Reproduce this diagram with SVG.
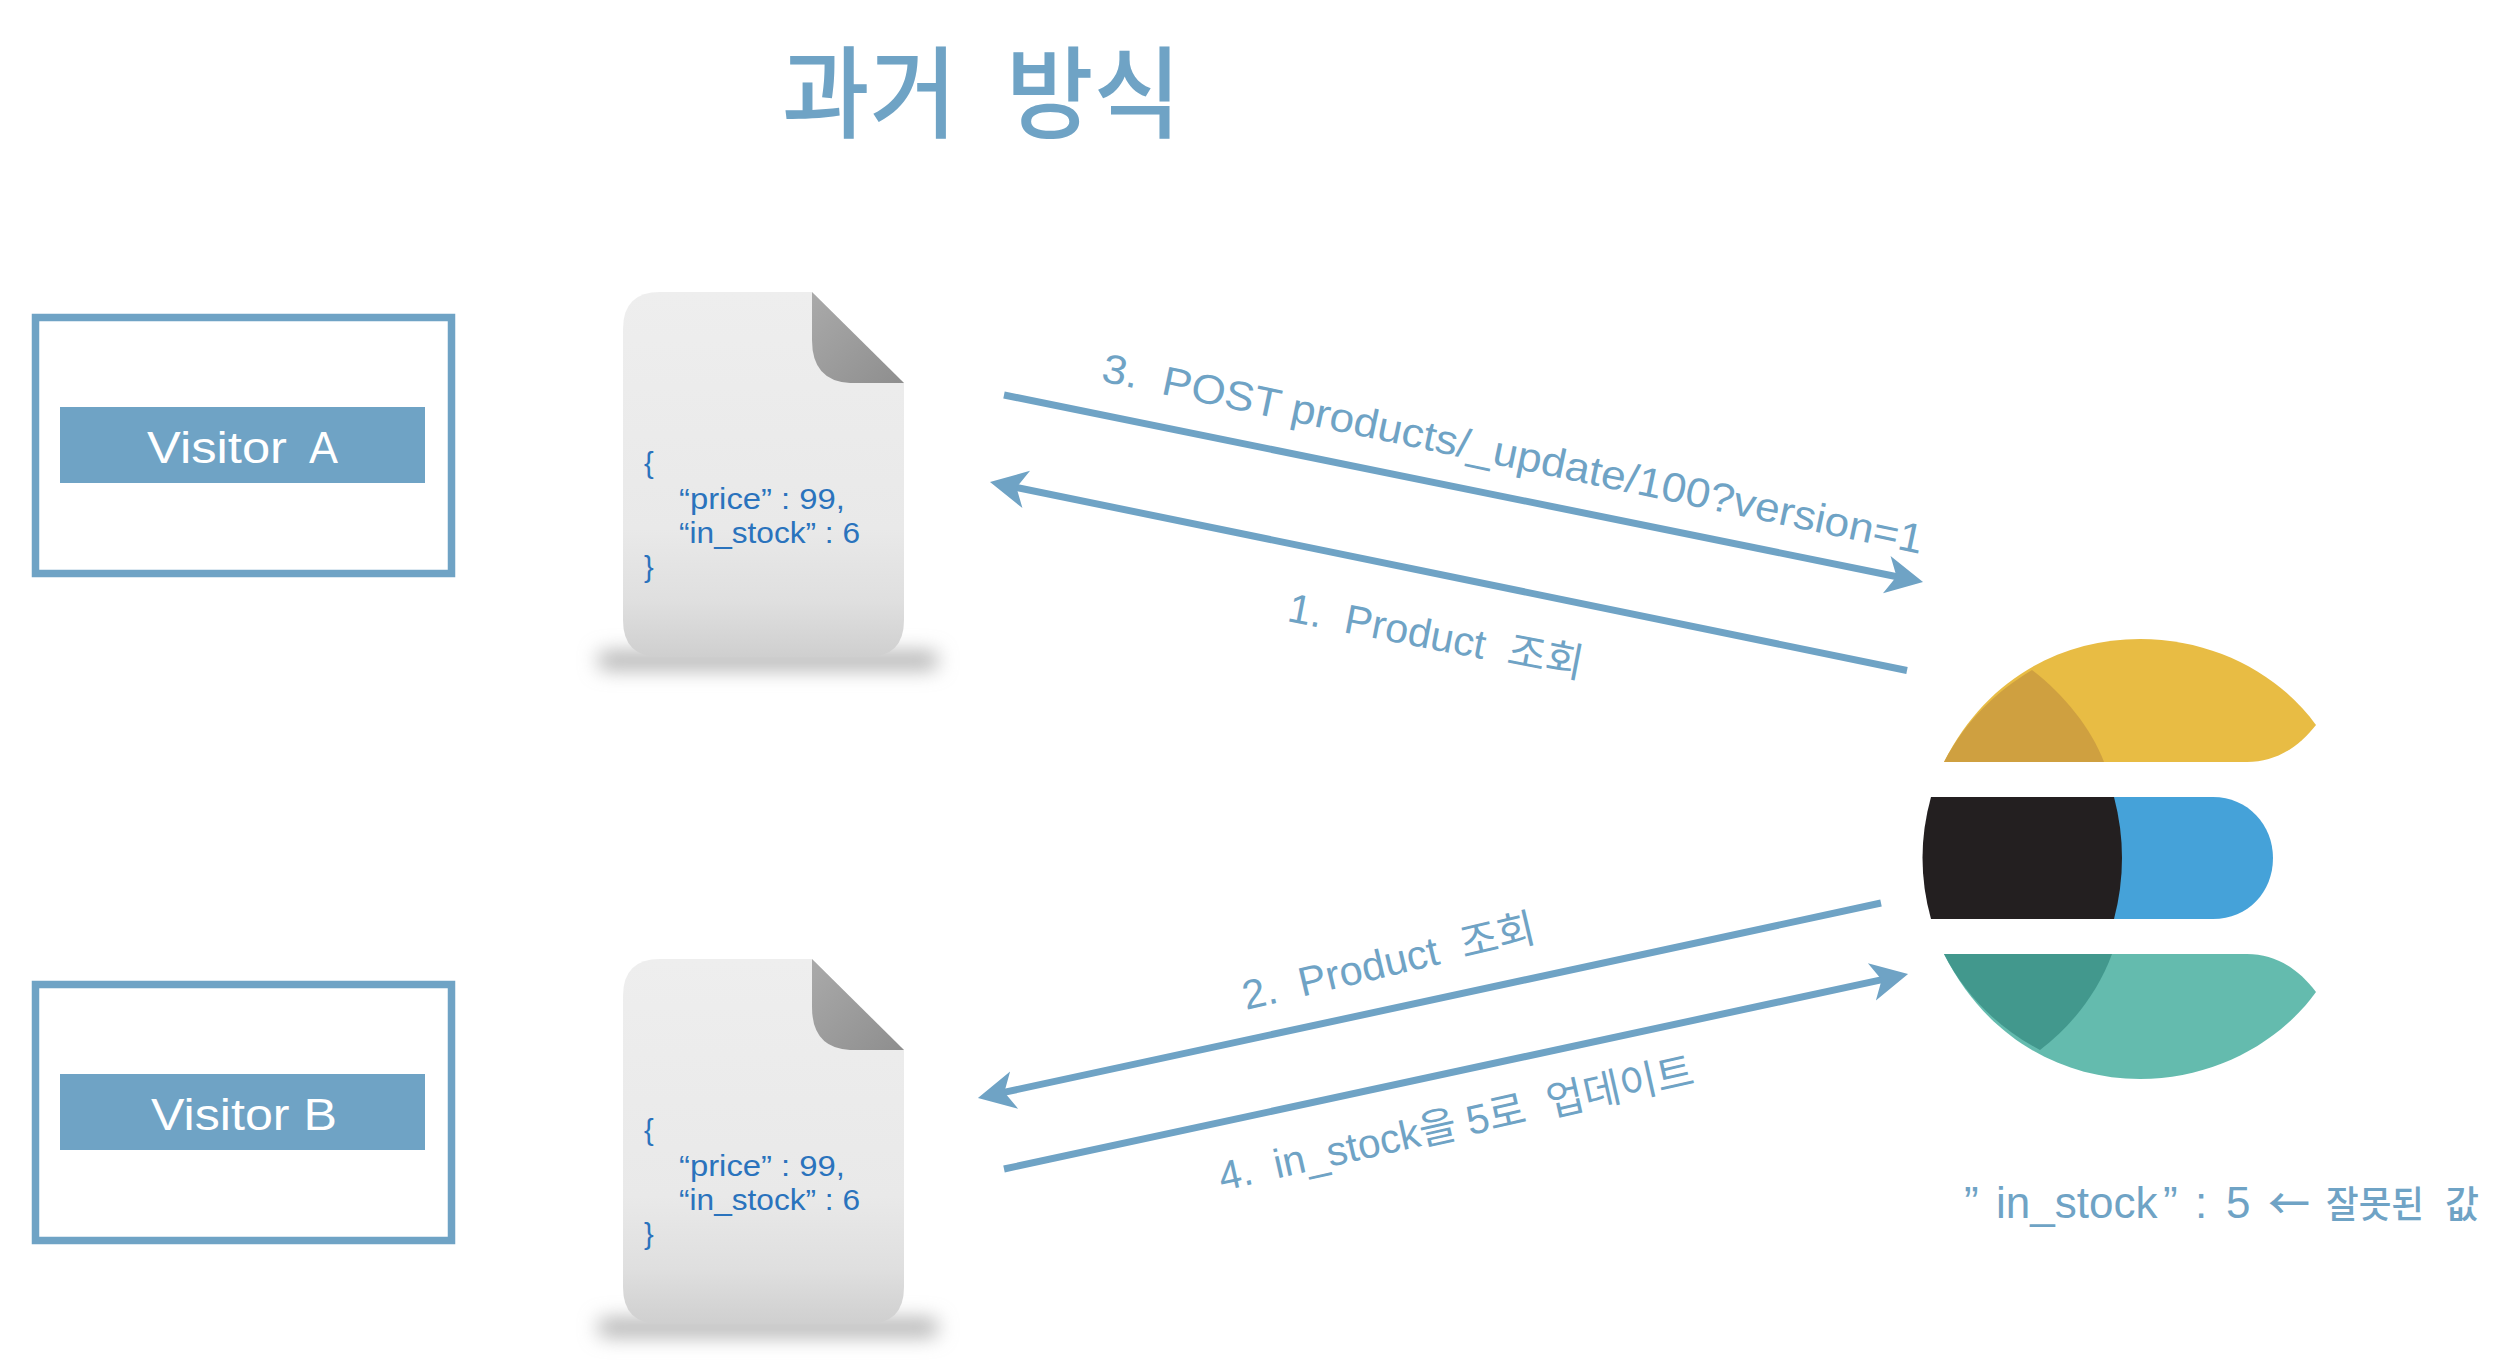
<svg xmlns="http://www.w3.org/2000/svg" xmlns:xlink="http://www.w3.org/1999/xlink" width="2518" height="1370" viewBox="0 0 2518 1370">
<style>
text{font-family:"Liberation Sans","Noto Sans CJK KR",sans-serif;white-space:pre}
.lbl{fill:#6fa3c5;font-size:41px}
.title{fill:#6fa3c5;font-family:"Noto Sans CJK KR",sans-serif;font-size:100px;font-weight:500}
.vis{fill:#fff;font-size:44px}
.box{fill:#fff;stroke:#6fa3c5;stroke-width:7.5}
.bar{fill:#6fa3c5}
.json{fill:#2a73bd;font-size:29px}
.conn{stroke:#6fa3c5;stroke-width:7;fill:none;marker-end:url(#ah)}
.big{font-size:44px}
.ko{font-size:37px;font-family:"Noto Sans CJK KR",sans-serif;font-weight:500}
.arr{font-size:42px;font-family:"Noto Sans CJK KR",sans-serif;font-weight:500}
</style>
<defs>
<marker id="ah" markerUnits="userSpaceOnUse" markerWidth="60" markerHeight="60" refX="13" refY="30" orient="auto" viewBox="0 0 60 60"><path d="M37,30 L0,11 L10,30 L0,49 Z" fill="#6fa3c5"/></marker>
<linearGradient id="page" x1="0" y1="0" x2="0" y2="1"><stop offset="0" stop-color="#eeeeee"/><stop offset=".65" stop-color="#e9e9e9"/><stop offset=".85" stop-color="#dfdfdf"/><stop offset="1" stop-color="#cfcfcf"/></linearGradient>
<linearGradient id="fold" x1="0" y1="0" x2="1" y2="1"><stop offset="0" stop-color="#aaaaaa"/><stop offset="1" stop-color="#8e8e8e"/></linearGradient>
<filter id="blur" x="-20%" y="-300%" width="140%" height="700%"><feGaussianBlur stdDeviation="10"/></filter>
<g id="doc">
<rect x="598" y="652" width="340" height="17" rx="8" fill="#ababab" filter="url(#blur)"/>
<path d="M660,292 H812 L904,383 V620 Q904,657 867,657 H660 Q623,657 623,620 V329 Q623,292 660,292 Z" fill="url(#page)"/>
<path d="M812,292 L904,383 H850 Q812,381 812,340 Z" fill="url(#fold)"/>
</g>
</defs>
<rect width="2518" height="1370" fill="#fff"/>
<g id="title"><text class="title" x="782" y="130" textLength="175" lengthAdjust="spacingAndGlyphs">과거</text><text class="title" x="1006" y="130" textLength="175" lengthAdjust="spacingAndGlyphs">방식</text></g>
<g id="visitor-a"><rect class="box" x="35.5" y="317.5" width="416" height="256"/><rect class="bar" x="60" y="407" width="365" height="76"/><text class="vis" x="147" y="463" textLength="140" lengthAdjust="spacingAndGlyphs">Visitor</text><text class="vis" x="309" y="463" textLength="29" lengthAdjust="spacingAndGlyphs">A</text></g>
<g id="visitor-b"><rect class="box" x="35.5" y="984.5" width="416" height="256"/><rect class="bar" x="60" y="1074" width="365" height="76"/><text class="vis" x="151" y="1130" textLength="186" lengthAdjust="spacingAndGlyphs">Visitor B</text></g>
<g id="doc-a"><use href="#doc" xlink:href="#doc"/>
<text class="json" x="644" y="473">{</text><text class="json" x="679" y="509" textLength="166" lengthAdjust="spacingAndGlyphs">“price” : 99,</text><text class="json" x="679" y="543" textLength="181" lengthAdjust="spacingAndGlyphs">“in_stock” : 6</text><text class="json" x="644" y="577">}</text></g>
<g id="doc-b"><use href="#doc" xlink:href="#doc" y="667"/>
<text class="json" x="644" y="1140">{</text><text class="json" x="679" y="1176" textLength="166" lengthAdjust="spacingAndGlyphs">“price” : 99,</text><text class="json" x="679" y="1210" textLength="181" lengthAdjust="spacingAndGlyphs">“in_stock” : 6</text><text class="json" x="644" y="1244">}</text></g>
<g id="logo">
<path d="M1944,762 C1985,680 2060,639 2140,639 C2215,639 2280,675 2316,725 C2298,748 2275,762 2247,762 Z" fill="#e8bc44"/>
<path d="M1944,762 C1965,722 1995,692 2032,670 C2065,695 2092,730 2104,762 Z" fill="#cfa040"/>
<path d="M2114,797 H2213 C2248,797 2273,825 2273,858 C2273,892 2248,919 2213,919 H2114 Z" fill="#45a2d9"/>
<path d="M1931,797 H2114 Q2130,858 2114,919 H1931 Q1914,858 1931,797 Z" fill="#231f20"/>
<path d="M1944,954 H2247 C2275,954 2298,968 2316,992 C2280,1042 2215,1079 2140,1079 C2060,1079 1985,1036 1944,954 Z" fill="#64bbae"/>
<path d="M1944,954 H2112 C2098,992 2072,1026 2040,1050 C1998,1028 1965,995 1944,954 Z" fill="#42988d"/>
</g>
<g id="connectors">
<line class="conn" x1="1004" y1="395" x2="1899.5" y2="577.2"/>
<line class="conn" x1="1907" y1="670.5" x2="1013.5" y2="486.8"/>
<line class="conn" x1="1881" y1="903" x2="1001.4" y2="1092.9"/>
<line class="conn" x1="1004" y1="1169" x2="1884.6" y2="979.1"/>
</g>
<g id="labels">
<text class="lbl" transform="translate(1100,381) rotate(11.9)" textLength="838" lengthAdjust="spacingAndGlyphs">3.  POST products/_update/100?version=1</text>
<text class="lbl" transform="translate(1286,621) rotate(11)" textLength="300" lengthAdjust="spacingAndGlyphs">1.  Product  조회</text>
<text class="lbl" transform="translate(1246,1010) rotate(-13.3)" textLength="300" lengthAdjust="spacingAndGlyphs">2.  Product  조회</text>
<text class="lbl" transform="translate(1222,1191) rotate(-12.7)" textLength="486" lengthAdjust="spacingAndGlyphs">4.  in_stock을 5로  업데이트</text>
<text class="lbl big" x="1964" y="1218">”</text><text class="lbl big" x="1996" y="1218">in_stock</text><text class="lbl big" x="2163" y="1218">”</text><text class="lbl big" x="2195" y="1218">:</text><text class="lbl big" x="2226" y="1218">5</text>
<text class="lbl arr" x="2268" y="1219">←</text><text class="lbl ko" x="2326" y="1218" textLength="98" lengthAdjust="spacingAndGlyphs">잘못된</text><text class="lbl ko" x="2445" y="1218">값</text>
</g>
</svg>
